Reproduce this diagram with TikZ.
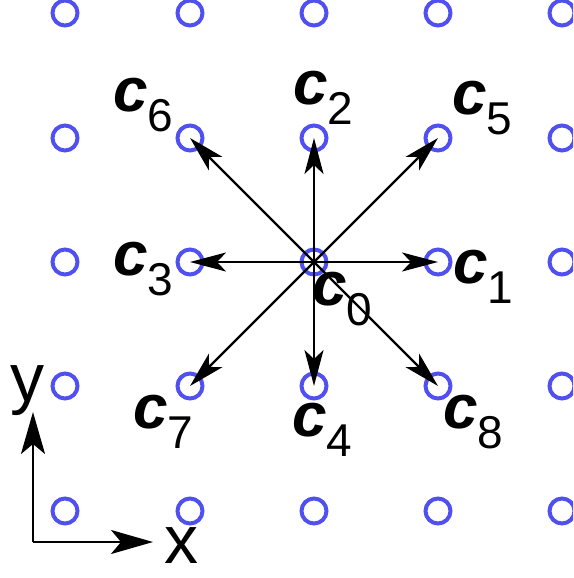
\documentclass[tikz,border=0pt]{standalone}
\usepackage{fontspec}
\setmainfont{Liberation Sans}
\usetikzlibrary{arrows.meta}
\definecolor{dotblue}{RGB}{80,80,240}
\newcommand{\clab}[1]{{\fontsize{62}{62}\selectfont\bfseries\itshape c}{\fontsize{46}{46}\selectfont\raisebox{-20pt}{#1}}}
\tikzset{
  dot/.style={circle,draw=dotblue,line width=4pt,minimum size=25pt,inner sep=0pt},
  vec/.style={line width=2.2pt,-{Stealth[length=36pt,width=19pt,inset=9pt]}},
  axis/.style={line width=2.2pt,-{Stealth[length=42pt,width=24pt,inset=10pt]}},
  lab/.style={anchor=base west,inner sep=0pt},
  axlab/.style={anchor=base west,inner sep=0pt,font=\fontsize{68}{68}\selectfont}
}
\begin{document}
\begin{tikzpicture}[x=1pt,y=-1pt]
\useasboundingbox (0,0) rectangle (573,578);
\clip (0,0) rectangle (573,578);
\foreach \i/\x in {0/65,1/190,2/314,3/438,4/562}{
  \foreach \j/\y in {0/13,1/138,2/262,3/386,4/511}{
    \node[dot] (p\i\j) at (\x,\y) {};
  }
}
\draw[vec] (p22.center) -- (p32.center);
\draw[vec] (p22.center) -- (p21.center);
\draw[vec] (p22.center) -- (p12.center);
\draw[vec] (p22.center) -- (p23.center);
\draw[vec] (p22.center) -- (p31.center);
\draw[vec] (p22.center) -- (p11.center);
\draw[vec] (p22.center) -- (p13.center);
\draw[vec] (p22.center) -- (p33.center);
\node[lab] (l0) at (312,305) {\clab{0}};
\node[lab] (l1) at (453,283) {\clab{1}};
\node[lab] (l2) at (293,104) {\clab{2}};
\node[lab] (l3) at (113,275) {\clab{3}};
\node[lab] (l4) at (292,436) {\clab{4}};
\node[lab] (l5) at (452,114) {\clab{5}};
\node[lab] (l6) at (113,111) {\clab{6}};
\node[lab] (l7) at (133,428) {\clab{7}};
\node[lab] (l8) at (443,428) {\clab{8}};
\coordinate (o) at (33,542);
\coordinate (ytip) at (33,412);
\coordinate (xtip) at (153,542);
\draw[axis] (o) -- (ytip);
\draw[axis] (o) -- (xtip);
\node[axlab] (ly) at (10,401) {y};
\node[axlab] (lx) at (164,563) {x};
\end{tikzpicture}
\end{document}
